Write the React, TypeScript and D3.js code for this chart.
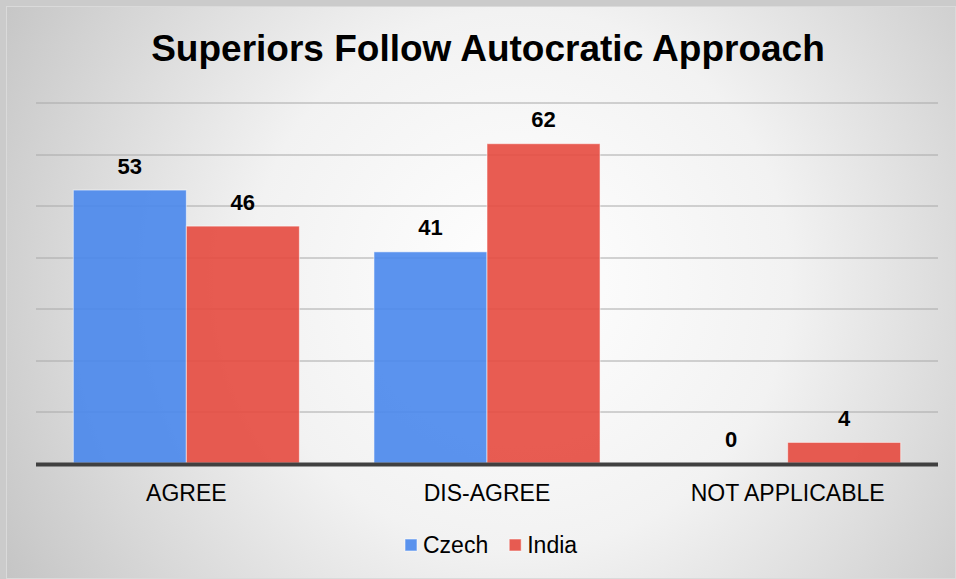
import React, { useEffect, useRef } from 'react';
import * as d3 from 'd3';

const categories = ['AGREE', 'DIS-AGREE', 'NOT APPLICABLE'];
const seriesNames = ['Czech', 'India'];
const czechValues = [53, 41, 0];
const indiaValues = [46, 62, 4];
const yTicks = [0, 10, 20, 30, 40, 50, 60, 70];
const colors = ['#4987ec', '#e64a3f'];

const W = 956;
const H = 579;

const App: React.FC = () => {
  const svgRef = useRef<SVGSVGElement>(null);

  useEffect(() => {
    document.body.style.margin = '0';
    if (!svgRef.current) return;
    const svg = d3.select(svgRef.current);
    svg.selectAll('*').remove();

    const margin = { top: 102.5, right: 18, bottom: 116, left: 36 };
    const plotW = W - margin.left - margin.right;
    const plotH = H - margin.top - margin.bottom;

    // background
    const defs = svg.append('defs');
    const grad = defs.append('radialGradient')
      .attr('id', 'bg')
      .attr('gradientUnits', 'userSpaceOnUse')
      .attr('cx', 520).attr('cy', 280).attr('r', 600);
    grad.append('stop').attr('offset', '0%').attr('stop-color', '#ffffff');
    grad.append('stop').attr('offset', '45%').attr('stop-color', '#f2f2f2');
    grad.append('stop').attr('offset', '100%').attr('stop-color', '#c4c4c4');

    svg.append('rect').attr('width', W).attr('height', H).attr('fill', '#cbcbcb');
    svg.append('rect')
      .attr('x', 6.5).attr('y', 6.5)
      .attr('width', W - 7).attr('height', H - 7)
      .attr('fill', 'url(#bg)')
      .attr('stroke', '#dadada');

    const g = svg.append('g').attr('transform', `translate(${margin.left},${margin.top})`);

    const x0 = d3.scaleBand<string>().domain(categories).range([0, plotW]);
    const x1 = d3.scaleBand<string>().domain(seriesNames).range([0, x0.bandwidth()]).paddingOuter(0.33);
    const y = d3.scaleLinear().domain([0, 70]).range([plotH, 0]);

    // gridlines
    g.append('g')
      .selectAll('line')
      .data(yTicks.filter(t => t > 0))
      .enter()
      .append('line')
      .attr('x1', 0).attr('x2', plotW)
      .attr('y1', d => Math.round(y(d)) + 0.5)
      .attr('y2', d => Math.round(y(d)) + 0.5)
      .attr('stroke', '#a8a8a8')
      .attr('stroke-width', 1);

    const rows = categories.map((c, i) => ({ cat: c, vals: [czechValues[i], indiaValues[i]] }));

    const groups = g.selectAll('g.cat')
      .data(rows)
      .enter()
      .append('g')
      .attr('class', 'cat')
      .attr('transform', d => `translate(${x0(d.cat)},0)`);

    groups.selectAll('rect')
      .data(d => d.vals.map((v, j) => ({ name: seriesNames[j], v, j })))
      .enter()
      .append('rect')
      .attr('x', d => x1(d.name)!)
      .attr('y', d => y(d.v))
      .attr('width', x1.bandwidth())
      .attr('height', d => plotH - y(d.v))
      .attr('fill', d => colors[d.j])
      .attr('fill-opacity', 0.9)
      .attr('stroke', d => (d.v > 0 ? 'rgba(255,255,255,0.55)' : 'none'))
      .attr('stroke-width', 1);

    groups.selectAll('text.val')
      .data(d => d.vals.map((v, j) => ({ name: seriesNames[j], v, j })))
      .enter()
      .append('text')
      .attr('class', 'val')
      .attr('x', d => x1(d.name)! + x1.bandwidth() / 2)
      .attr('y', d => y(d.v) - 16.5)
      .attr('text-anchor', 'middle')
      .attr('fill', '#000')
      .style('font-family', 'Liberation Sans, Arial, sans-serif')
      .style('font-size', '22px')
      .style('font-weight', 'bold')
      .text(d => d.v);

    // baseline
    g.append('line')
      .attr('x1', 0).attr('x2', plotW)
      .attr('y1', plotH + 1.5).attr('y2', plotH + 1.5)
      .attr('stroke', '#404040')
      .attr('stroke-width', 4);

    // category labels
    g.selectAll('text.cat')
      .data(categories)
      .enter()
      .append('text')
      .attr('class', 'cat')
      .attr('x', d => x0(d)! + x0.bandwidth() / 2)
      .attr('y', plotH + 38)
      .attr('text-anchor', 'middle')
      .attr('fill', '#000')
      .style('font-family', 'Liberation Sans, Arial, sans-serif')
      .style('font-size', '23px')
      .text(d => d);

    // title
    svg.append('text')
      .attr('x', 488)
      .attr('y', 61)
      .attr('text-anchor', 'middle')
      .attr('fill', '#000')
      .style('font-family', 'Liberation Sans, Arial, sans-serif')
      .style('font-size', '37px')
      .style('font-weight', 'bold')
      .text('Superiors Follow Autocratic Approach');

    // legend
    const legend = svg.append('g').attr('transform', 'translate(405,553)');
    let lx = 0;
    seriesNames.forEach((name, i) => {
      const item = legend.append('g').attr('transform', `translate(${lx},0)`);
      item.append('rect')
        .attr('x', 0).attr('y', -14)
        .attr('width', 12).attr('height', 12)
        .attr('fill', colors[i])
        .attr('fill-opacity', 0.9)
        .attr('stroke', 'rgba(255,255,255,0.55)');
      const t = item.append('text')
        .attr('x', 18).attr('y', 0)
        .attr('fill', '#000')
        .style('font-family', 'Liberation Sans, Arial, sans-serif')
        .style('font-size', '23px')
        .text(name);
      const tw = (t.node() as SVGTextElement).getComputedTextLength();
      lx += 18 + tw + 21;
    });
  }, []);

  return <svg ref={svgRef} width={W} height={H} style={{ display: 'block' }} />;
};

export default App;
